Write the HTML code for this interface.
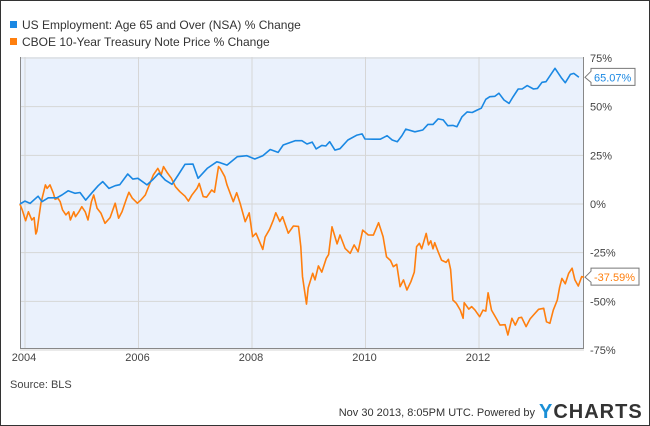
<!DOCTYPE html>
<html><head><meta charset="utf-8"><style>
html,body{margin:0;padding:0;background:#fff}
#wrap{position:relative;width:648px;height:424px;border:1px solid #333;background:#fff;font-family:"Liberation Sans",sans-serif;overflow:hidden}
svg{position:absolute;left:-1px;top:-1px}
</style></head><body>
<div id="wrap">
<svg id="chart" width="650" height="426"></svg>
</div>
<script>
const blueDates=[2003.91,2004.00,2004.09,2004.23,2004.30,2004.41,2004.56,2004.65,2004.76,2004.88,2004.97,2005.07,2005.18,2005.29,2005.37,2005.48,2005.59,2005.67,2005.81,2005.90,2005.99,2006.15,2006.26,2006.36,2006.47,2006.59,2006.70,2006.82,2006.96,2007.05,2007.21,2007.38,2007.44,2007.56,2007.74,2007.91,2008.05,2008.19,2008.32,2008.46,2008.55,2008.76,2008.88,2008.97,2009.06,2009.13,2009.23,2009.30,2009.37,2009.46,2009.55,2009.69,2009.85,2009.94,2009.99,2010.13,2010.26,2010.38,2010.47,2010.56,2010.64,2010.71,2010.87,2011.01,2011.10,2011.19,2011.28,2011.37,2011.45,2011.54,2011.61,2011.70,2011.79,2011.88,2011.97,2012.04,2012.12,2012.19,2012.28,2012.35,2012.44,2012.53,2012.60,2012.69,2012.76,2012.85,2012.96,2013.03,2013.11,2013.18,2013.34,2013.45,2013.52,2013.61,2013.67,2013.76];
const blueValues=[0,1.5,0.3,4,1.2,3.2,3.2,4.6,6.8,5.5,5.9,2,5.8,9.4,11.5,8,9.4,9.9,15.4,12.8,13.2,9.8,12.8,15.8,12.3,10.1,14.9,20.4,20.5,13.2,18.3,21.7,21.2,20,24.3,24.8,23.1,24.8,28,26.5,30.3,32.5,32.5,30.8,31.8,28.3,30.1,29.8,32,27.7,28.4,32.9,35.4,36,33.4,33.3,33.3,35.1,32.9,32,35,38.5,37.1,38,40.9,40.9,43.7,43.2,40.2,40.4,39.7,44.8,47.3,47,48.3,49.2,53.8,55.1,55.3,56.9,53.4,51.7,55,59.1,59.1,60.8,59.1,59.4,62.5,62.8,69.7,64.9,62.3,66.6,67.1,65.07];
const orangeDates=[2003.91,2003.95,2004.01,2004.06,2004.12,2004.16,2004.19,2004.21,2004.28,2004.36,2004.39,2004.44,2004.50,2004.53,2004.58,2004.62,2004.66,2004.72,2004.77,2004.80,2004.86,2004.89,2004.95,2005.00,2005.06,2005.11,2005.17,2005.21,2005.27,2005.34,2005.41,2005.50,2005.59,2005.65,2005.71,2005.79,2005.83,2005.89,2005.98,2006.04,2006.12,2006.20,2006.26,2006.34,2006.40,2006.44,2006.51,2006.58,2006.65,2006.73,2006.82,2006.88,2006.94,2007.03,2007.07,2007.14,2007.20,2007.29,2007.34,2007.41,2007.44,2007.52,2007.56,2007.67,2007.73,2007.79,2007.88,2007.95,2008.01,2008.07,2008.19,2008.23,2008.31,2008.38,2008.42,2008.49,2008.54,2008.64,2008.73,2008.82,2008.86,2008.89,2008.96,2008.99,2009.07,2009.11,2009.17,2009.23,2009.31,2009.35,2009.41,2009.50,2009.55,2009.64,2009.73,2009.80,2009.87,2009.95,2010.05,2010.14,2010.23,2010.31,2010.37,2010.44,2010.49,2010.55,2010.61,2010.67,2010.73,2010.80,2010.86,2010.90,2010.95,2010.99,2011.07,2011.11,2011.15,2011.19,2011.22,2011.28,2011.34,2011.42,2011.46,2011.50,2011.54,2011.60,2011.67,2011.72,2011.74,2011.82,2011.87,2011.93,2012.01,2012.07,2012.12,2012.16,2012.22,2012.32,2012.37,2012.46,2012.51,2012.58,2012.64,2012.70,2012.75,2012.83,2012.90,2012.96,2013.05,2013.14,2013.19,2013.25,2013.31,2013.38,2013.42,2013.46,2013.52,2013.58,2013.64,2013.69,2013.75,2013.81,2013.85];
const orangeValues=[0,-3,-8.6,-4,-8.2,-7,-15.4,-14,0.4,9.8,8,9.8,5.5,2.4,3,1.2,-3,-5.6,-4,-8.2,-4,-6.5,-4,-1.4,-4,-8.2,1.2,4.6,-2.2,-4.8,-9.9,-7,0.4,-7.3,-4,2.9,6,3,0.4,2,4.6,10.6,14.9,18.3,15,19.2,16,13.2,8.9,6.3,4,1.5,4.5,8,10.6,3.8,3.5,7.2,6,19.2,18.3,14,9.8,1.2,5.8,0.4,-9.1,-4.5,-16.8,-15,-23.3,-17,-13,-7.9,-4.5,-9,-6.5,-15,-11.3,-11.5,-21.9,-37.3,-51.4,-43,-35.6,-39,-31.8,-35,-27.9,-26,-11.7,-20.5,-15.9,-22.8,-25.3,-21,-24.5,-13.4,-15.9,-16,-9.6,-16.8,-27.1,-29,-32.2,-31,-42.5,-39,-44.2,-39.9,-35,-21.9,-20.2,-23,-15.1,-21,-18.9,-23,-19.9,-24.5,-28.8,-30,-28.4,-33.6,-49.3,-51,-54.5,-58.7,-50.7,-54,-52.7,-54.5,-57.9,-54.5,-55,-45.6,-54.5,-59.6,-62.2,-62,-67.3,-58.7,-62.2,-58.5,-58.2,-63,-59,-57,-54.1,-53.6,-60.5,-61.3,-54.5,-49.3,-42.8,-38.2,-41,-35.6,-33,-39,-42.1,-37.3,-37.59];
const yTicks=[75,50,25,0,-25,-50,-75];
const yTickLabels=["75%","50%","25%","0%","-25%","-50%","-75%"];
const xTicks=[2004,2006,2008,2010,2012];
const xTickLabels=["2004","2006","2008","2010","2012"];
const seriesNames=["US Employment: Age 65 and Over (NSA) % Change","CBOE 10-Year Treasury Note Price % Change"];

const NS="http://www.w3.org/2000/svg";
const svg=document.getElementById('chart');
const L=20,R=584,T=57,B=349;
const xs=d=>25+(d-2004)*56.75;
const ys=v=>204-v*(B-T)/150;
function mk(tag,attrs,parent){const e=document.createElementNS(NS,tag);for(const k in attrs)e.setAttribute(k,attrs[k]);(parent||svg).appendChild(e);return e;}

const bg=mk('rect',{x:L,y:T,width:R-L,height:B-T,fill:'#eaf1fc'});


yTicks.forEach((t,i)=>{
  const g=mk('line',{x1:L,x2:R,y1:ys(t),y2:ys(t),stroke:'#d6d6d6','stroke-width':1});
  
  
  const tx=mk('text',{x:590,y:ys(t)+4,'font-size':11,fill:'#444'});
  tx.textContent=yTickLabels[i];
  
  
});
xTicks.forEach((t,i)=>{
  const g=mk('line',{x1:xs(t),x2:xs(t),y1:T,y2:B,stroke:'#d6d6d6','stroke-width':1});
  
  
  const tx=mk('text',{x:xs(t)-1,y:361,'font-size':11,fill:'#444','text-anchor':'middle'});
  tx.textContent=xTickLabels[i];
  
  
});
const frame=mk('path',{d:`M${L+0.5},${T} V${B-0.5} H${R-0.5} V${T}`,fill:'none',stroke:'#888','stroke-width':1});



function line(dates,vals,color,name){
  const d=dates.map((t,i)=>(i?'L':'M')+xs(t).toFixed(1)+','+ys(vals[i]).toFixed(1)).join(' ');
  const p=mk('path',{d:d,fill:'none',stroke:color,'stroke-width':1.6,'stroke-linejoin':'round'});
  
  
}
line(orangeDates,orangeValues,'#ff7f0e','treasury-line');
line(blueDates,blueValues,'#1a88e3','employment-line');

function endLabel(val,color,name){
  const y=ys(val);
  const g=mk('g',{});
  
  
  const w=val<0?48:44;
  mk('path',{d:`M585,${y} L591,${y-6} V${y-9} H${591+w} V${y+8} H591 V${y+5} Z`,fill:'#fff',stroke:'#777','stroke-width':1},g);
  const t=mk('text',{x:594,y:y+4,'font-size':11,fill:color},g);
  t.textContent=(val<0?'-':'')+Math.abs(val).toFixed(2)+'%';
}
endLabel(blueValues[blueValues.length-1],'#1a88e3','employment-end-label');
endLabel(orangeValues[orangeValues.length-1],'#ff7f0e','treasury-end-label');

const colors=['#1a88e3','#ff7f0e'];
seriesNames.forEach((n,i)=>{
  const g=mk('g',{});
  
  
  mk('rect',{x:10,y:21+i*17,width:7,height:7,fill:colors[i]},g);
  const t=mk('text',{x:22,y:29+i*17,'font-size':12,fill:'#333'},g);
  t.textContent=n;
});
const src=mk('text',{x:10,y:388,'font-size':11,fill:'#444'});
src.textContent='Source: BLS';


const ft=mk('text',{x:535,y:416,'font-size':11,fill:'#333','text-anchor':'end'});
ft.textContent='Nov 30 2013, 8:05PM UTC.  Powered by';


const logo=mk('text',{x:539,y:418,'font-size':20,'font-weight':'bold',fill:'#333','letter-spacing':'1'});


const ty=mk('tspan',{fill:'#1a8fd6'},logo);ty.textContent='Y';
const tc=mk('tspan',{},logo);tc.textContent='CHARTS';
</script>
</body></html>
